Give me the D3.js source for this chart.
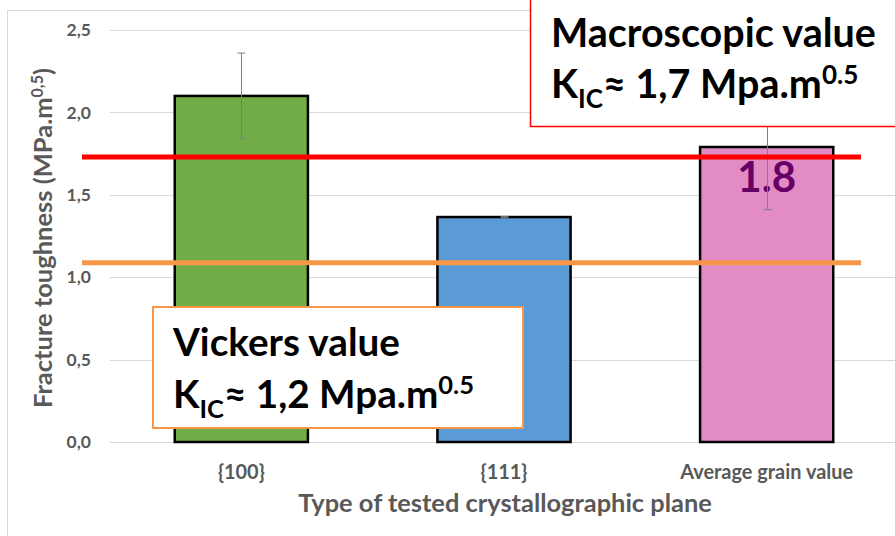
<!DOCTYPE html>
<html>
<head>
<meta charset="utf-8">
<script src="https://cdn.jsdelivr.net/npm/d3@7"></script>
<style>
  body { margin: 0; background: #fff; }
  svg { display: block; font-family: Lato, "Open Sans", sans-serif; }
</style>
</head>
<body>
<svg id="chart" width="895" height="536"></svg>
<script>
// --- Data ---
const categories = ["{100}", "{111}", "Average grain value"];
const values = [2.1, 1.365, 1.79];
const errors = [0.26, 0.004, 0.38];
const barColors = ["#70ad47", "#5b9bd5", "#e28bc4"];
const yTicks = [0, 0.5, 1.0, 1.5, 2.0, 2.5];
const macroLine = 1.73;   // red reference
const vickersLine = 1.087; // orange reference
const avgLabel = "1.8";

// --- Layout ---
const W = 895, H = 536;
const plot = { left: 110, right: 898, top: 30, bottom: 442 };
const grey = "#595959";

const svg = d3.select("#chart");

// chart frame
svg.append("rect")
    .attr("x", 7.5).attr("y", 10.5)
    .attr("width", 1000).attr("height", 1000)
    .attr("fill", "none").attr("stroke", "#d9d9d9").attr("stroke-width", 1);

const x = d3.scaleBand().domain(categories).range([plot.left, plot.right]).paddingInner(0.493).paddingOuter(0.2465);
const y = d3.scaleLinear().domain([0, 2.5]).range([plot.bottom, plot.top]);

// scale a text element's font size so it spans the target width
function fitWidth(sel, target) {
    const fs = parseFloat(sel.attr("font-size"));
    const w = sel.node().getComputedTextLength();
    const k = target / w;
    sel.attr("font-size", fs * k);
    sel.selectAll("tspan").each(function () {
        const t = d3.select(this);
        if (t.attr("font-size")) t.attr("font-size", parseFloat(t.attr("font-size")) * k);
        if (t.attr("dy")) t.attr("dy", parseFloat(t.attr("dy")) * k);
    });
    return k;
}

// gridlines
svg.append("g")
    .selectAll("line")
    .data(yTicks)
    .join("line")
    .attr("x1", plot.left).attr("x2", W)
    .attr("y1", d => Math.round(y(d)) + 0.5).attr("y2", d => Math.round(y(d)) + 0.5)
    .attr("stroke", "#d9d9d9").attr("stroke-width", 1);

// y axis labels
const yAxis = svg.append("g")
    .attr("transform", `translate(${plot.left - 19},0)`)
    .call(d3.axisLeft(y).tickValues(yTicks).tickSize(0).tickPadding(0)
        .tickFormat(d => d3.format(".1f")(d).replace(".", ",")));
yAxis.select(".domain").remove();
yAxis.selectAll("text")
    .attr("fill", grey).attr("font-size", 17.5).attr("font-weight", "bold")
    .attr("font-family", "Lato, sans-serif");

// bars
svg.append("g")
    .selectAll("rect")
    .data(categories)
    .join("rect")
    .attr("x", d => x(d))
    .attr("y", (d, i) => y(values[i]))
    .attr("width", x.bandwidth())
    .attr("height", (d, i) => y(0) - y(values[i]))
    .attr("fill", (d, i) => barColors[i])
    .attr("stroke", "#000").attr("stroke-width", 2.5);

// value label on the average bar
svg.append("text")
    .attr("x", x(categories[2]) + x.bandwidth() / 2)
    .attr("y", y(values[2]) + 45)
    .attr("text-anchor", "middle")
    .attr("font-size", 42).attr("font-weight", "bold")
    .attr("fill", "#660066")
    .text(avgLabel);

// error bars
const eb = svg.append("g").attr("stroke", "#7f7f7f").attr("stroke-width", 1);
categories.forEach((c, i) => {
    const cx = Math.round(x(c) + x.bandwidth() / 2) + 0.5;
    const y1 = y(values[i] + errors[i]), y2 = y(values[i] - errors[i]);
    eb.append("line").attr("x1", cx).attr("x2", cx).attr("y1", y1).attr("y2", y2);
    [y1, y2].forEach(v => eb.append("line").attr("x1", cx - 4).attr("x2", cx + 4).attr("y1", v).attr("y2", v));
});

// reference lines
svg.append("line")
    .attr("x1", 82).attr("x2", 861)
    .attr("y1", y(vickersLine)).attr("y2", y(vickersLine))
    .attr("stroke", "#f79646").attr("stroke-width", 5);
svg.append("line")
    .attr("x1", 82).attr("x2", 861)
    .attr("y1", y(macroLine)).attr("y2", y(macroLine))
    .attr("stroke", "#ff0000").attr("stroke-width", 5);

// x axis labels
const xAxis = svg.append("g")
    .attr("transform", `translate(0,${plot.bottom + 23})`)
    .call(d3.axisBottom(x).tickSize(0).tickPadding(0));
xAxis.select(".domain").remove();
const xt = xAxis.selectAll("text")
    .attr("fill", grey).attr("font-size", 15).attr("font-weight", "bold")
    .attr("font-family", "Lato, sans-serif");
const kx = fitWidth(xt.filter((d, i) => i === 2), 173);
xt.attr("font-size", 15 * kx);

// axis titles
fitWidth(svg.append("text")
    .attr("x", 505).attr("y", 512)
    .attr("text-anchor", "middle")
    .attr("font-size", 20).attr("font-weight", "bold").attr("fill", grey)
    .text("Type of tested crystallographic plane"), 414);

const yt = svg.append("text")
    .attr("transform", "translate(52,238) rotate(-90)")
    .attr("text-anchor", "middle")
    .attr("font-size", 19).attr("font-weight", "bold").attr("fill", grey);
yt.append("tspan").text("Fracture toughness (MPa.m");
yt.append("tspan").attr("font-size", 12).attr("dy", -7).text("0,5");
yt.append("tspan").attr("dy", 7).text(")");
fitWidth(yt, 340);

// annotation boxes
function annotation(box, stroke, strokeW, title, k, tx, base1, base2, w1) {
    svg.append("rect")
        .attr("x", box.x).attr("y", box.y).attr("width", box.w).attr("height", box.h)
        .attr("fill", "#fff").attr("stroke", stroke).attr("stroke-width", strokeW);
    const t1 = svg.append("text")
        .attr("x", tx).attr("y", base1)
        .attr("font-size", 32).attr("font-weight", "bold").attr("fill", "#000")
        .text(title);
    const s = fitWidth(t1, w1);
    const fs = 32 * s;
    const t = svg.append("text")
        .attr("x", tx).attr("y", base2)
        .attr("font-size", fs).attr("font-weight", "bold").attr("fill", "#000");
    t.append("tspan").text("K");
    t.append("tspan").attr("font-size", fs * 0.66).attr("dy", 10).text("IC");
    t.append("tspan").attr("dy", -10).text("\u2248 " + k + " Mpa.m");
    t.append("tspan").attr("font-size", fs * 0.66).attr("dy", -14).text("0.5");
}

annotation({ x: 530.5, y: -5, w: 400, h: 131.5 }, "#ff0000", 1.5,
    "Macroscopic value", "1,7", 551, 47, 98, 325);
annotation({ x: 153, y: 307, w: 370, h: 121 }, "#f79646", 2,
    "Vickers value", "1,2", 173, 356, 408, 227);
</script>
</body>
</html>
